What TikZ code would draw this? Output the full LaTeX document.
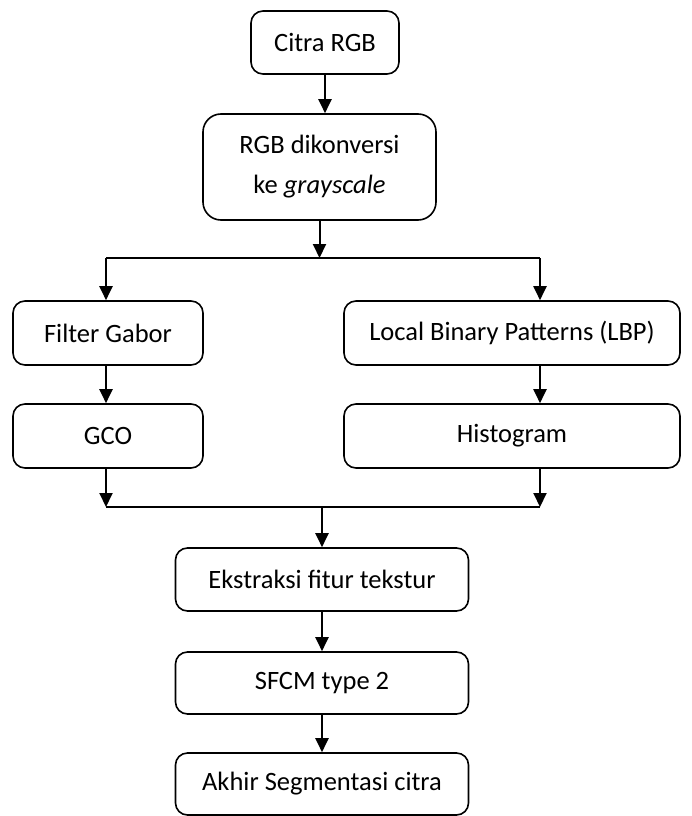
\documentclass[tikz,border=0pt]{standalone}
\usepackage{fontspec}
\setmainfont{Carlito}
\usetikzlibrary{arrows.meta}

\begin{document}
\begin{tikzpicture}[x=1pt,y=-1pt,font=\fontsize{26.5}{40}\selectfont,
  box/.style={draw=black,line width=1.6pt,rounded corners=12pt,inner sep=0pt,align=center},
  arr/.style={-{Triangle[length=14pt,width=13pt]},line width=2pt},
  ln/.style={line width=2pt}]
\useasboundingbox (0,0) rectangle (691,816);
\node[box,minimum width=148pt,minimum height=63pt] (citra) at (325,42.5) {Citra RGB};
\node[box,minimum width=233pt,minimum height=106pt,rounded corners=18pt] (gray) at (319.5,167) {RGB dikonversi\\ke \textit{grayscale}};
\node[box,minimum width=190pt,minimum height=64pt] (gabor) at (108,333) {Filter Gabor};
\node[box,minimum width=336pt,minimum height=64pt] (lbp) at (512,333) {Local Binary Patterns (LBP)};
\node[box,minimum width=190pt,minimum height=64pt] (gco) at (108,436) {GCO};
\node[box,minimum width=336pt,minimum height=64pt] (hist) at (512,436) {Histogram};
\node[box,minimum width=293pt,minimum height=63pt] (ekstr) at (322,579.5) {Ekstraksi fitur tekstur};
\node[box,minimum width=293pt,minimum height=62pt] (sfcm) at (322,683) {SFCM type 2};
\node[box,minimum width=293pt,minimum height=62pt] (akhir) at (322,784) {Akhir Segmentasi citra};
% split and merge lines
\coordinate (splitL) at (106,258);
\coordinate (splitR) at (540,258);
\coordinate (mergeL) at (106,507);
\coordinate (mergeR) at (540,507);
\draw[arr] (citra.south) -- (citra.south |- gray.north);
\draw[arr] (gray.south) -- (gray.south |- splitL);
\draw[ln] (splitL) -- (splitR);
\draw[arr] (splitL) -- (splitL |- gabor.north);
\draw[arr] (splitR) -- (splitR |- lbp.north);
\draw[arr] (gabor.south -| splitL) -- (splitL |- gco.north);
\draw[arr] (lbp.south -| splitR) -- (splitR |- hist.north);
\draw[arr] (gco.south -| mergeL) -- (mergeL);
\draw[arr] (hist.south -| mergeR) -- (mergeR);
\draw[ln] (mergeL) -- (mergeR);
\draw[arr] (ekstr.north |- mergeL) -- (ekstr.north);
\draw[arr] (ekstr) -- (sfcm);
\draw[arr] (sfcm) -- (akhir);
\end{tikzpicture}
\end{document}
